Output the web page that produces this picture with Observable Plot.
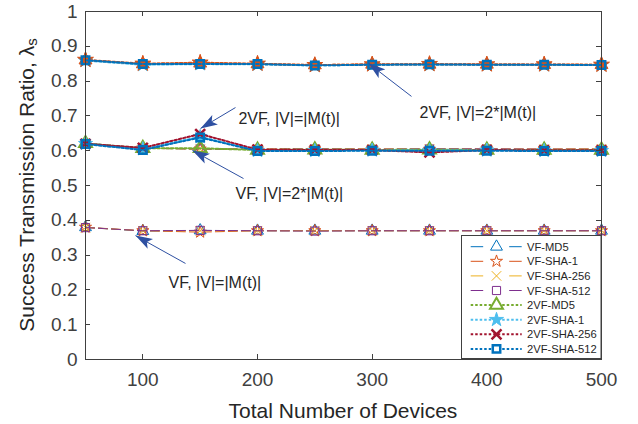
<!DOCTYPE html>
<html><head><meta charset="utf-8">
<script src="https://cdn.jsdelivr.net/npm/d3@7"></script>
<script src="https://cdn.jsdelivr.net/npm/@observablehq/plot@0.6"></script>
<style>
body{margin:0;background:#fff;}
#chart{width:638px;height:424px;}
</style>
</head><body><div id="chart"></div>
<script>
// ---------- data ----------
const devices = [50, 100, 150, 200, 250, 300, 350, 400, 450, 500];
const seriesNames = ["VF-MD5", "VF-SHA-1", "VF-SHA-256", "VF-SHA-512", "2VF-MD5", "2VF-SHA-1", "2VF-SHA-256", "2VF-SHA-512"];
const xTicks = [100, 200, 300, 400, 500];
const yTicks = [0, 0.1, 0.2, 0.3, 0.4, 0.5, 0.6, 0.7, 0.8, 0.9, 1];

// VF, |V| = |M(t)|
const vfMD5_1x    = [0.380, 0.369, 0.371, 0.370, 0.370, 0.370, 0.370, 0.370, 0.370, 0.370];
const vfSHA1_1x   = [0.380, 0.370, 0.366, 0.370, 0.370, 0.370, 0.370, 0.370, 0.370, 0.370];
const vfSHA256_1x = [0.379, 0.370, 0.370, 0.370, 0.370, 0.370, 0.370, 0.370, 0.370, 0.370];
const vfSHA512_1x = [0.379, 0.370, 0.371, 0.370, 0.369, 0.370, 0.370, 0.370, 0.370, 0.370];
// VF, |V| = 2*|M(t)|
const vfMD5_2x    = [0.622, 0.607, 0.605, 0.604, 0.605, 0.604, 0.605, 0.604, 0.604, 0.604];
const vfSHA1_2x   = [0.621, 0.608, 0.605, 0.605, 0.605, 0.605, 0.604, 0.605, 0.605, 0.605];
const vfSHA256_2x = [0.620, 0.607, 0.604, 0.605, 0.605, 0.605, 0.605, 0.605, 0.604, 0.605];
const vfSHA512_2x = [0.621, 0.607, 0.605, 0.604, 0.605, 0.604, 0.605, 0.605, 0.604, 0.604];
// 2VF, |V| = |M(t)|
const twoMD5_1x    = [0.621, 0.607, 0.607, 0.602, 0.603, 0.602, 0.603, 0.602, 0.602, 0.602];
const twoSHA1_1x   = [0.620, 0.605, 0.640, 0.600, 0.600, 0.601, 0.600, 0.601, 0.600, 0.600];
const twoSHA256_1x = [0.620, 0.608, 0.648, 0.603, 0.602, 0.602, 0.595, 0.602, 0.601, 0.601];
const twoSHA512_1x = [0.619, 0.602, 0.638, 0.599, 0.599, 0.600, 0.600, 0.600, 0.599, 0.599];
// 2VF, |V| = 2*|M(t)|
const twoMD5_2x    = [0.860, 0.849, 0.851, 0.849, 0.846, 0.848, 0.848, 0.848, 0.847, 0.847];
const twoSHA1_2x   = [0.859, 0.847, 0.849, 0.848, 0.845, 0.847, 0.847, 0.847, 0.846, 0.846];
const twoSHA256_2x = [0.861, 0.850, 0.853, 0.850, 0.846, 0.848, 0.849, 0.848, 0.848, 0.847];
const twoSHA512_2x = [0.860, 0.849, 0.849, 0.849, 0.845, 0.847, 0.848, 0.847, 0.847, 0.846];

// annotations (data coordinates)
const annoLabels = ["2VF, |V|=2*|M(t)|", "2VF, |V|=|M(t)|", "VF, |V|=2*|M(t)|", "VF, |V|=|M(t)|"];
const annoTextX = [341.3, 183.4, 180.8, 122.4];
const annoTextY = [0.710, 0.6925, 0.477, 0.221];
const annoTailX = [334.3, 180.8, 187.8, 137.2];
const annoTailY = [0.756, 0.724, 0.520, 0.276];
const annoTipX  = [296.8, 150.3, 143.3, 93.6];
const annoTipY  = [0.851, 0.664, 0.6006, 0.356];

// ---------- styles ----------
const seriesStyle = {
  "VF-MD5":      {color: "#0072BD", symbol: "triangle", r: 4.4, fill: "none", lw: 1, mlw: 1, dash: "9,4"},
  "VF-SHA-1":    {color: "#D95319", symbol: "star",     r: 3.8, fill: "none", lw: 1, mlw: 1, dash: "9,4"},
  "VF-SHA-256":  {color: "#EDB120", symbol: "times",    r: 4.4, fill: "none", lw: 1, mlw: 1, dash: "9,4"},
  "VF-SHA-512":  {color: "#7E2F8E", symbol: "square",   r: 4.6, fill: "none", lw: 1, mlw: 1, dash: "9,4"},
  "2VF-MD5":     {color: "#77AC30", symbol: "triangle", r: 4.8, fill: "none", lw: 2, mlw: 2, dash: "2.5,2"},
  "2VF-SHA-1":   {color: "#4DBEEE", symbol: "star",     r: 4.4, fill: "#4DBEEE", lw: 2, mlw: 1, dash: "2.5,2"},
  "2VF-SHA-256": {color: "#A2142F", symbol: "times",    r: 4.6, fill: "none", lw: 2, mlw: 2.5, dash: "2.5,2"},
  "2VF-SHA-512": {color: "#0072BD", symbol: "square",   r: 4.2, fill: "none", lw: 2, mlw: 2.5, dash: "2.5,2"}
};
// the upper 2VF curves appear orange-red with filled markers in the figure
const topOverride = {
  "2VF-MD5": {color: "#D95319", symbol: "triangle", r: 4.8, fill: "#D95319", mlw: 1},
  "2VF-SHA-256": {color: "#D95319", symbol: "star", r: 5, fill: "#D95319", mlw: 1}
};

const curves = [
  {series: "VF-MD5", values: vfMD5_1x}, {series: "VF-MD5", values: vfMD5_2x},
  {series: "VF-SHA-1", values: vfSHA1_1x}, {series: "VF-SHA-1", values: vfSHA1_2x},
  {series: "VF-SHA-256", values: vfSHA256_1x}, {series: "VF-SHA-256", values: vfSHA256_2x},
  {series: "VF-SHA-512", values: vfSHA512_1x}, {series: "VF-SHA-512", values: vfSHA512_2x},
  {series: "2VF-MD5", values: twoMD5_1x}, {series: "2VF-MD5", values: twoMD5_2x, top: true},
  {series: "2VF-SHA-1", values: twoSHA1_1x}, {series: "2VF-SHA-1", values: twoSHA1_2x, top: true},
  {series: "2VF-SHA-256", values: twoSHA256_1x}, {series: "2VF-SHA-256", values: twoSHA256_2x, top: true},
  {series: "2VF-SHA-512", values: twoSHA512_1x}, {series: "2VF-SHA-512", values: twoSHA512_2x, top: true}
];

const axisColor = "#404040";
const textColor = "#262626";
const arrowColor = "#2E50A2";
const font = "'Liberation Sans', Arial, Helvetica, sans-serif";

function filledArrow(color) {
  const m = d3.create("svg:marker")
    .attr("viewBox", "-17 -6 18 12")
    .attr("markerUnits", "userSpaceOnUse")
    .attr("markerWidth", 18).attr("markerHeight", 12)
    .attr("orient", "auto")
    .attr("fill", color).attr("stroke", "none");
  m.append("path").attr("d", "M-17,-5.5L0,0L-17,5.5L-13,0Z");
  return m.node();
}

const marks = [];
for (const c of curves) {
  let st = Object.assign({}, seriesStyle[c.series]);
  if (c.top && topOverride[c.series]) Object.assign(st, topOverride[c.series]);
  const rows = devices.map((x, i) => ({x, y: c.values[i]}));
  marks.push(Plot.line(rows, {x: "x", y: "y", stroke: st.color, strokeWidth: st.lw, strokeDasharray: st.dash}));
  marks.push(Plot.dot(rows, {x: "x", y: "y", symbol: st.symbol, r: st.r, stroke: st.color, fill: st.fill, strokeWidth: st.mlw}));
}

const annos = annoLabels.map((label, i) => ({
  label, tx: annoTextX[i], ty: annoTextY[i],
  x1: annoTailX[i], y1: annoTailY[i], x2: annoTipX[i], y2: annoTipY[i]
}));

marks.push(Plot.link(annos, {x1: "x1", y1: "y1", x2: "x2", y2: "y2", stroke: arrowColor, strokeWidth: 1, markerEnd: filledArrow}));
marks.push(Plot.text(annos, {x: "tx", y: "ty", text: "label", textAnchor: "start", lineAnchor: "middle", fontSize: 16, fill: textColor}));
marks.push(Plot.frame({stroke: axisColor, strokeWidth: 1}));
marks.push(Plot.axisX(xTicks, {tickSize: 0, tickPadding: 13, label: null, fill: axisColor, fontSize: 19}));
marks.push(Plot.axisY(yTicks, {tickSize: 0, tickPadding: 8, label: null, fill: axisColor, fontSize: 19, tickFormat: d3.format("~g")}));

const chart = Plot.plot({
  width: 638, height: 424,
  marginLeft: 85, marginRight: 37, marginTop: 11, marginBottom: 65,
  x: {domain: [50, 500]},
  y: {domain: [0, 1]},
  style: {fontFamily: font, fontSize: "19px", color: axisColor, background: "#fff"},
  marks
});
document.getElementById("chart").appendChild(chart);

// ---------- decorations using Plot's scales ----------
const svg = d3.select(chart);
const xs = chart.scale("x"), ys = chart.scale("y");
const sx = d3.scaleLinear(xs.domain, xs.range);
const sy = d3.scaleLinear(ys.domain, ys.range);
const [xl, xr] = sx.range(), [yb, yt] = sy.range();
const tk = 5;
const g = svg.append("g").attr("stroke", axisColor).attr("stroke-width", 1);
for (const t of xTicks) {
  const px = Math.round(sx(t)) + 0.5;
  g.append("line").attr("x1", px).attr("x2", px).attr("y1", yb).attr("y2", yb - tk);
  g.append("line").attr("x1", px).attr("x2", px).attr("y1", yt).attr("y2", yt + tk);
}
for (const t of yTicks) {
  const py = Math.round(sy(t)) + 0.5;
  g.append("line").attr("y1", py).attr("y2", py).attr("x1", xl).attr("x2", xl + tk);
  g.append("line").attr("y1", py).attr("y2", py).attr("x1", xr).attr("x2", xr - tk);
}

// axis titles
svg.append("text").attr("x", (xl + xr) / 2).attr("y", 410)
  .attr("text-anchor", "middle").attr("dominant-baseline", "central")
  .attr("font-size", 21).attr("fill", textColor).attr("font-family", font)
  .text("Total Number of Devices");
const yt_ = svg.append("text").attr("transform", `translate(26,${(yb + yt) / 2}) rotate(-90)`)
  .attr("text-anchor", "middle").attr("dominant-baseline", "central")
  .attr("font-size", 21).attr("fill", textColor).attr("font-family", font);
yt_.append("tspan").text("Success Transmission Ratio, λ");
yt_.append("tspan").attr("font-size", 15).attr("dy", "0.35em").text("s");

// legend
const lg = svg.append("g").attr("font-family", font).attr("text-anchor", "start");
const lx0 = 461, ly0 = 235, lw = xr - lx0 - 0.5, lh = yb - 1 - ly0;
lg.append("rect").attr("x", lx0 + 0.5).attr("y", ly0 + 0.5).attr("width", lw).attr("height", lh)
  .attr("fill", "#fff").attr("stroke", axisColor).attr("stroke-width", 1);
const symMap = {triangle: d3.symbolTriangle, star: d3.symbolStar, times: d3.symbolTimes, square: d3.symbolSquare};
seriesNames.forEach((name, i) => {
  const st = seriesStyle[name];
  const cy = ly0 + 11.7 + i * 14.6;
  const isVF = !name.startsWith("2");
  lg.append("line").attr("x1", 470.7).attr("x2", 521.7).attr("y1", cy).attr("y2", cy)
    .attr("stroke", st.color).attr("stroke-width", st.lw)
    .attr("stroke-dasharray", isVF ? "12.5,26,12.5" : "2.5,2");
  lg.append("path").attr("transform", `translate(496.5,${cy})`)
    .attr("d", d3.symbol(symMap[st.symbol], Math.PI * st.r * st.r)())
    .attr("fill", st.fill === "none" ? "#fff" : st.fill).attr("stroke", st.color).attr("stroke-width", st.mlw);
  lg.append("text").attr("x", 527).attr("y", cy).attr("dominant-baseline", "central")
    .attr("font-size", 11.2).attr("fill", textColor).text(name);
});
</script>
</body></html>
